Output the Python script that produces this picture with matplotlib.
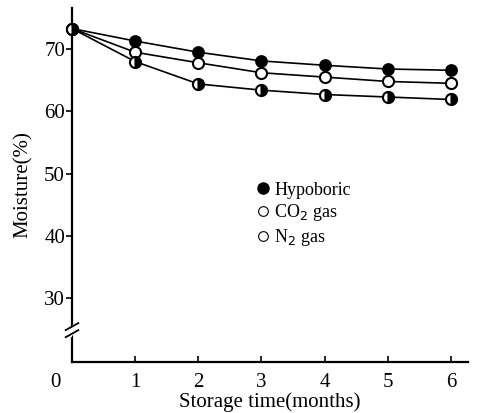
import matplotlib.pyplot as plt
from matplotlib.lines import Line2D

plt.rcParams['font.family'] = ['Liberation Serif', 'DejaVu Serif']

months = [0, 1, 2, 3, 4, 5, 6]
hypoboric = [73.3, 71.3, 69.5, 68.1, 67.4, 66.8, 66.6]
co2_gas = [73.3, 69.5, 67.8, 66.2, 65.5, 64.8, 64.5]
n2_gas = [73.3, 68.0, 64.4, 63.4, 62.7, 62.3, 61.9]

fig = plt.figure(figsize=(4.8, 4.13), dpi=100)
ax = fig.add_axes([0.15, 0.1235, 0.825, 0.857])

ax.plot(months, hypoboric, color='black', lw=1.2, marker='o', ms=8,
        mfc='black', mec='black', mew=1.2, clip_on=False, zorder=3)
ax.plot(months, co2_gas, color='black', lw=1.2, marker='o', ms=8,
        mfc='white', mec='black', mew=1.5, clip_on=False, zorder=3)
ax.plot(months, n2_gas, color='black', lw=1.2, marker='o', ms=8,
        fillstyle='right', mfc='black', mfcalt='white', mec='black', mew=1.5,
        clip_on=False, zorder=3)

ax.set_xlim(0, 6.27)
ax.set_ylim(19.7, 76.6)
ax.set_xticks([1, 2, 3, 4, 5, 6])
ax.set_yticks([30, 40, 50, 60, 70])
ax.tick_params(axis='x', direction='in', length=4, width=1.2, labelsize=15, pad=8)
ax.tick_params(axis='y', direction='out', length=4, width=1.2, labelsize=15, pad=1)
ax.text(-0.27, -0.03, '0', transform=ax.get_xaxis_transform(), fontsize=15,
        ha='center', va='top')
for side in ['top', 'right']:
    ax.spines[side].set_visible(False)
for side in ['left', 'bottom']:
    ax.spines[side].set_linewidth(1.6)

# axis break mark
ax.plot([-0.004, 0.004], [0.08, 0.095], transform=ax.transAxes, color='white',
        lw=4, clip_on=False, zorder=5)
for y0 in [0.07, 0.09]:
    ax.plot([-0.016, 0.016], [y0, y0 + 0.02], transform=ax.transAxes,
            color='black', lw=1.3, clip_on=False, zorder=6)

ax.set_xlabel('Storage time(months)', fontsize=15, labelpad=0)
ax.set_ylabel('Moisture(%)', fontsize=15, labelpad=8)

handles = [
    Line2D([], [], ls='none', marker='o', ms=8, mfc='black', mec='black'),
    Line2D([], [], ls='none', marker='o', ms=7, mfc='white', mec='black', mew=0.8),
    Line2D([], [], ls='none', marker='o', ms=7, mfc='white', mec='black', mew=0.8),
]
ax.legend(handles, ['Hypoboric', 'CO$_2$ gas', 'N$_2$ gas'], frameon=False,
          loc='upper left', bbox_to_anchor=(0.445, 0.535), handlelength=0.6,
          handletextpad=0.35, labelspacing=0.2, fontsize=13, borderpad=0)

fig.savefig('out.png', dpi=100)
